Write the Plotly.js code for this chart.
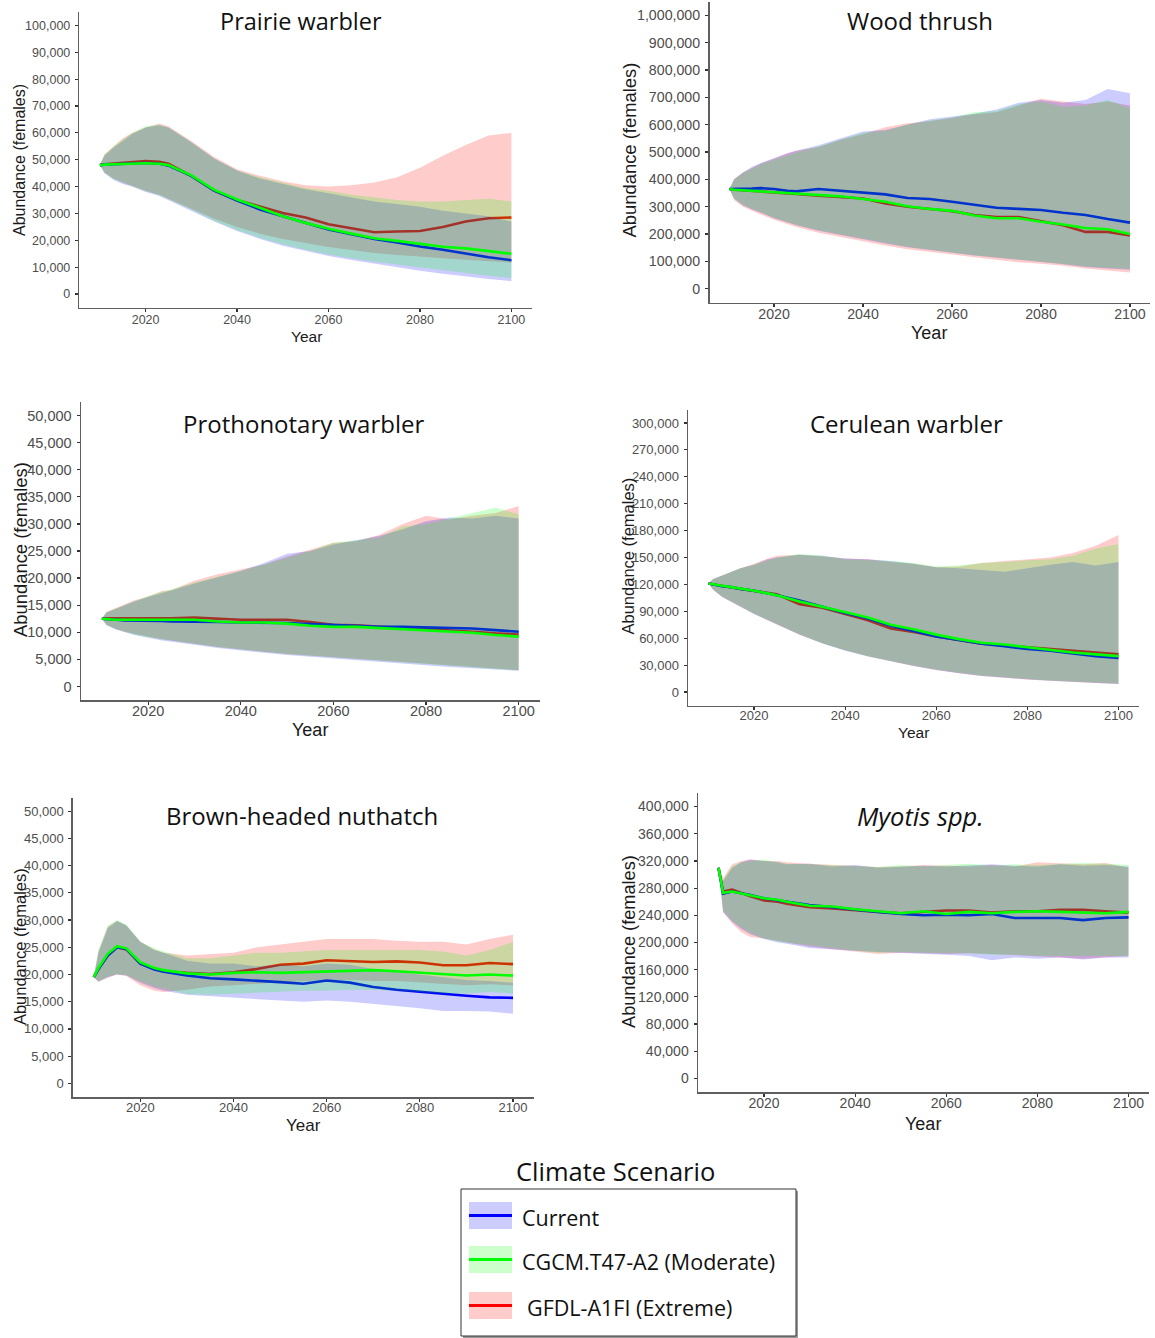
<!DOCTYPE html>
<html>
<head>
<meta charset="utf-8">
<script src="https://cdn.plot.ly/plotly-3.0.1.min.js"></script>
<style>html,body{margin:0;padding:0;background:#fff;}#chart{width:1155px;height:1338px;}</style>
</head>
<body>
<div id="chart"></div>
<script>
// ---------------- DATA ----------------
const years = [2010, 2011, 2013, 2015, 2017, 2020, 2023, 2025, 2030, 2035, 2040, 2045, 2050, 2055, 2060, 2065, 2070, 2075, 2080, 2085, 2090, 2095, 2100];
const xTicks = [2020, 2040, 2060, 2080, 2100];
const scenarios = ["Current", "CGCM.T47-A2 (Moderate)", "GFDL-A1FI (Extreme)"];
const speciesNames = ["Prairie warbler", "Wood thrush", "Prothonotary warbler", "Cerulean warbler", "Brown-headed nuthatch", "Myotis spp."];

// Prairie warbler
const pwCurMean = [48000, 48200, 48300, 48500, 48600, 48800, 48500, 47800, 44000, 38500, 34800, 31500, 29000, 26500, 24000, 22300, 20500, 19200, 17700, 16500, 15000, 13700, 12600];
const pwModMean = [48000, 48200, 48300, 48400, 48500, 48700, 48500, 48000, 44200, 38800, 35200, 32000, 29000, 26500, 24300, 22500, 20800, 19800, 18600, 17600, 17000, 16000, 15000];
const pwExtMean = [48000, 48300, 48600, 48800, 49000, 49500, 49200, 48500, 44000, 38500, 35000, 32500, 30200, 28500, 26000, 24500, 23000, 23300, 23500, 25000, 27000, 28200, 28500];
const pwCurHi = [48000, 51500, 54500, 57000, 59500, 62000, 62800, 62000, 56500, 50500, 46000, 43000, 41000, 39000, 37500, 36000, 34500, 33500, 32500, 31000, 30000, 29000, 27000];
const pwModHi = [48000, 52000, 55000, 57500, 60000, 62500, 63000, 62000, 56500, 50500, 46000, 43500, 41500, 39500, 38500, 37000, 36000, 35000, 34500, 34500, 35000, 35500, 34500];
const pwExtHi = [48000, 52000, 55000, 58000, 60000, 62000, 63500, 62500, 57000, 51000, 46500, 44000, 42000, 40500, 40000, 40500, 41500, 43500, 47000, 51500, 55500, 59000, 60000];
const pwCurLo = [48000, 45000, 42500, 41000, 40000, 38000, 36500, 35000, 31000, 27000, 23500, 20500, 18000, 16000, 14200, 12700, 11200, 10000, 8700, 7600, 6500, 5600, 4800];
const pwModLo = [48000, 45200, 42800, 41300, 40200, 38300, 36800, 35300, 31500, 27300, 23800, 21000, 18500, 16500, 14700, 13300, 12000, 11000, 9800, 8800, 7800, 6800, 6000];
const pwExtLo = [48000, 45300, 43000, 41500, 40300, 38500, 37000, 35500, 31800, 28000, 25000, 22500, 20500, 19000, 17500, 16300, 15300, 14500, 14000, 13300, 12700, 12200, 11700];

// Wood thrush
const wtCurMean = [365000, 365000, 364000, 366000, 368000, 365000, 358000, 356000, 365000, 358000, 350000, 345000, 332000, 328000, 318000, 306000, 296000, 292000, 288000, 278000, 270000, 255000, 242000];
const wtModMean = [365000, 362000, 360000, 358000, 356000, 355000, 350000, 348000, 345000, 338000, 328000, 318000, 302000, 292000, 285000, 268000, 258000, 258000, 245000, 235000, 222000, 218000, 200000];
const wtExtMean = [365000, 362000, 360000, 358000, 355000, 352000, 350000, 347000, 340000, 336000, 330000, 312000, 300000, 292000, 284000, 270000, 262000, 262000, 248000, 232000, 208000, 208000, 195000];
const wtCurHi = [365000, 400000, 425000, 445000, 460000, 478000, 495000, 505000, 525000, 550000, 575000, 580000, 600000, 620000, 630000, 640000, 655000, 680000, 690000, 680000, 690000, 730000, 715000];
const wtModHi = [365000, 398000, 422000, 440000, 455000, 472000, 488000, 498000, 520000, 545000, 570000, 578000, 600000, 615000, 625000, 645000, 650000, 675000, 685000, 665000, 670000, 690000, 660000];
const wtExtHi = [365000, 400000, 425000, 443000, 458000, 475000, 495000, 505000, 518000, 545000, 565000, 590000, 605000, 612000, 625000, 638000, 645000, 670000, 695000, 685000, 675000, 685000, 670000];
const wtCurLo = [365000, 330000, 305000, 290000, 278000, 258000, 242000, 232000, 212000, 196000, 182000, 166000, 152000, 142000, 132000, 122000, 112000, 104000, 98000, 90000, 80000, 74000, 70000];
const wtModLo = [365000, 330000, 306000, 292000, 280000, 260000, 244000, 234000, 214000, 198000, 184000, 168000, 154000, 143000, 133000, 123000, 113000, 105000, 99000, 91000, 82000, 76000, 72000];
const wtExtLo = [365000, 325000, 300000, 285000, 272000, 252000, 236000, 226000, 205000, 188000, 174000, 158000, 145000, 135000, 125000, 115000, 105000, 97000, 92000, 84000, 74000, 67000, 60000];

// Prothonotary warbler
const ptCurMean = [12500, 12400, 12300, 12200, 12200, 12200, 12100, 12000, 12000, 11900, 11800, 11800, 11700, 11500, 11300, 11200, 11000, 11000, 10900, 10900, 10700, 10400, 10100];
const ptModMean = [12500, 12400, 12300, 12300, 12300, 12300, 12300, 12300, 12300, 12000, 11800, 11800, 11600, 11200, 11000, 11000, 10800, 10600, 10400, 10200, 9900, 9500, 9200];
const ptExtMean = [12500, 12600, 12600, 12600, 12600, 12500, 12600, 12600, 12700, 12500, 12300, 12300, 12300, 11900, 11400, 11300, 11000, 10800, 10600, 10400, 10100, 9800, 9600];
const ptCurHi = [12500, 13600, 14300, 15000, 15700, 16500, 17300, 17700, 19000, 20200, 21300, 22800, 24500, 25000, 26200, 27000, 27800, 29000, 30500, 31200, 31000, 31500, 31000];
const ptModHi = [12500, 13700, 14400, 15100, 15800, 16700, 17500, 17900, 19200, 20200, 21300, 22500, 23800, 25000, 26500, 27000, 27500, 29500, 30000, 31000, 32000, 33000, 31800];
const ptExtHi = [12500, 13800, 14500, 15200, 15900, 16600, 17600, 17800, 19500, 20700, 21600, 22500, 24000, 25200, 26500, 26800, 28000, 30000, 31500, 30800, 31500, 32000, 33300];
const ptCurLo = [12500, 11300, 10500, 10000, 9500, 9000, 8500, 8200, 7700, 7100, 6600, 6200, 5800, 5400, 5100, 4800, 4500, 4200, 3900, 3600, 3400, 3100, 2900];
const ptModLo = [12500, 11400, 10600, 10100, 9600, 9100, 8700, 8400, 7900, 7300, 6800, 6400, 6000, 5600, 5300, 5000, 4700, 4400, 4100, 3800, 3500, 3200, 3000];
const ptExtLo = [12500, 11400, 10600, 10100, 9700, 9200, 8700, 8400, 7900, 7300, 6800, 6400, 6000, 5600, 5300, 5000, 4700, 4400, 4100, 3800, 3500, 3300, 3000];

// Cerulean warbler
const cwCurMean = [121000, 120000, 118000, 117000, 115000, 113000, 110000, 108000, 102000, 95000, 88000, 82000, 74000, 68000, 62000, 58000, 54000, 51000, 48000, 46000, 43000, 40000, 38000];
const cwModMean = [121000, 120000, 118500, 117000, 115500, 113000, 110000, 108000, 101000, 95000, 89000, 83000, 75000, 70000, 64000, 59000, 55000, 53000, 50000, 47000, 44000, 42000, 40000];
const cwExtMean = [121000, 120000, 118000, 116500, 115000, 113000, 111000, 109000, 98000, 94000, 87000, 80000, 71000, 67000, 62000, 58000, 54000, 52000, 50000, 48000, 46000, 44000, 42000];
const cwCurHi = [121000, 126000, 130000, 134000, 138000, 142000, 148000, 150000, 153000, 152000, 149000, 148000, 146000, 143000, 139000, 138000, 136000, 134000, 138000, 142000, 145000, 141000, 145000];
const cwModHi = [121000, 126000, 130000, 134000, 138000, 142000, 147000, 150000, 154000, 152000, 148000, 147000, 146000, 144000, 140000, 141000, 144000, 145000, 147000, 148000, 152000, 160000, 165000];
const cwExtHi = [121000, 126000, 130000, 134000, 138000, 143000, 149000, 152000, 153000, 151000, 149000, 148000, 145000, 143000, 139000, 140000, 144000, 146000, 148000, 150000, 155000, 163000, 175000];
const cwCurLo = [121000, 114000, 106000, 100000, 95000, 87000, 80000, 75000, 64000, 54000, 46000, 39500, 34000, 29000, 24500, 21000, 18000, 16000, 14000, 12500, 11000, 10000, 9000];
const cwModLo = [121000, 114500, 106500, 100500, 95500, 87500, 80500, 75500, 64500, 54500, 46500, 40000, 34500, 29500, 25000, 21500, 18500, 16500, 14500, 13000, 11500, 10500, 9500];
const cwExtLo = [121000, 114000, 106000, 100000, 95000, 87000, 80000, 75000, 64000, 54500, 46500, 40000, 34500, 29000, 24500, 21000, 18000, 16000, 14000, 12500, 11000, 10000, 9000];

// Brown-headed nuthatch
const bnCurMean = [19500, 21000, 23500, 25000, 24700, 22000, 20900, 20500, 19800, 19300, 19100, 18900, 18600, 18300, 18900, 18500, 17700, 17200, 16800, 16400, 16100, 15800, 15700];
const bnModMean = [19500, 21200, 23800, 25200, 24800, 22200, 21200, 20800, 20200, 20000, 20300, 20400, 20300, 20400, 20500, 20700, 20800, 20600, 20300, 20100, 19800, 20000, 19800];
const bnExtMean = [19500, 21000, 23500, 25000, 24600, 22000, 21000, 20600, 20300, 20100, 20400, 21000, 21800, 22000, 22600, 22500, 22300, 22400, 22200, 21700, 21700, 22100, 21900];
const bnCurHi = [19500, 24000, 28500, 29800, 29000, 26000, 24500, 24000, 22500, 22000, 22000, 21500, 21800, 21500, 22000, 21800, 21000, 20500, 20000, 19500, 19000, 18800, 18500];
const bnModHi = [19500, 24500, 29000, 30000, 29200, 26000, 24800, 24200, 23000, 23000, 23500, 24000, 24000, 24200, 24500, 24500, 24500, 24400, 24500, 24200, 23500, 24500, 26000];
const bnExtHi = [19500, 24200, 28800, 29800, 29000, 26000, 24600, 24000, 23500, 23700, 24000, 25000, 25500, 26000, 26500, 26500, 26500, 26200, 26000, 26000, 25500, 26500, 27300];
const bnCurLo = [19500, 18700, 19500, 20000, 19800, 18500, 17500, 17000, 16300, 16000, 15800, 15500, 15200, 15000, 15200, 15000, 14500, 14200, 13800, 13300, 13300, 13200, 12800];
const bnModLo = [19500, 18800, 19600, 20100, 19900, 18700, 17800, 17300, 16400, 16300, 16400, 16600, 16800, 17000, 17000, 17200, 17200, 17000, 16800, 16500, 16500, 16800, 16500];
const bnExtLo = [19500, 18600, 19400, 20000, 19700, 18000, 17000, 16800, 17200, 17800, 18000, 18300, 18500, 18800, 19000, 19000, 18800, 18800, 18500, 18300, 18000, 18200, 18000];

// Myotis spp.
const myCurMean = [310000, 272000, 275000, 273000, 270000, 265000, 262000, 260000, 255000, 252000, 248000, 245000, 242000, 240000, 241000, 240000, 242000, 236000, 236000, 236000, 233000, 236000, 237000];
const myModMean = [310000, 273000, 275000, 272000, 270000, 265000, 263000, 260000, 254000, 253000, 249000, 246000, 243000, 246000, 242000, 245000, 243000, 245000, 246000, 245000, 244000, 243000, 245000];
const myExtMean = [310000, 275000, 278000, 273000, 268000, 262000, 260000, 257000, 252000, 250000, 247000, 245000, 243000, 245000, 247000, 247000, 244000, 246000, 246000, 248000, 248000, 246000, 244000];
const myCurHi = [310000, 290000, 310000, 318000, 322000, 320000, 318000, 315000, 316000, 312000, 314000, 310000, 312000, 313000, 312000, 314000, 315000, 313000, 312000, 315000, 313000, 314000, 312000];
const myModHi = [310000, 292000, 312000, 318000, 320000, 322000, 318000, 316000, 315000, 314000, 313000, 311000, 314000, 312000, 314000, 316000, 313000, 315000, 314000, 316000, 317000, 316000, 314000];
const myExtHi = [310000, 295000, 315000, 320000, 322000, 320000, 320000, 318000, 316000, 314000, 312000, 311000, 312000, 314000, 313000, 312000, 314000, 312000, 318000, 316000, 315000, 317000, 310000];
const myCurLo = [310000, 245000, 230000, 220000, 212000, 205000, 200000, 198000, 192000, 190000, 188000, 186000, 184000, 183000, 182000, 180000, 174000, 178000, 176000, 178000, 175000, 178000, 178000];
const myModLo = [310000, 248000, 232000, 222000, 214000, 206000, 202000, 200000, 195000, 192000, 188000, 185000, 186000, 185000, 184000, 184000, 182000, 182000, 180000, 180000, 180000, 180000, 180000];
const myExtLo = [310000, 245000, 228000, 215000, 208000, 206000, 202000, 200000, 194000, 190000, 186000, 183000, 185000, 184000, 183000, 184000, 183000, 181000, 180000, 178000, 176000, 178000, 180000];

// ---------------- LAYOUT HELPERS ----------------
const W = 1155, H = 1338;
const px = v => v / W;
const py = v => 1 - v / H;

const SCEN_STYLE = {
  ext: {fill: 'rgba(255,0,0,0.2)', line: '#ff0000'},
  cur: {fill: 'rgba(0,0,255,0.2)', line: '#0000ff'},
  mod: {fill: 'rgba(0,255,0,0.2)', line: '#00ff00'}
};

// panel geometry (pixels) and styling
const panels = [
  {name: speciesNames[0], data: {cur: [pwCurMean, pwCurLo, pwCurHi], mod: [pwModMean, pwModLo, pwModHi], ext: [pwExtMean, pwExtLo, pwExtHi]},
   x: [79.3, 532], y: [12, 307.5], vmax: 100000, dtick: 10000, tickSize: 12.5, xStand: -3,
   title: [301, 20.5, 23.5], year: [306, 336, 15.5], ytitle: [19, 160, 16]},
  {name: speciesNames[1], data: {cur: [wtCurMean, wtCurLo, wtCurHi], mod: [wtModMean, wtModLo, wtModHi], ext: [wtExtMean, wtExtLo, wtExtHi]},
   x: [709.5, 1150], y: [1.5, 302.5], vmax: 1000000, dtick: 100000, tickSize: 14.2, xStand: -5,
   title: [920, 20, 24], year: [929, 333.5, 18], ytitle: [629, 150.5, 18.4]},
  {name: speciesNames[2], data: {cur: [ptCurMean, ptCurLo, ptCurHi], mod: [ptModMean, ptModLo, ptModHi], ext: [ptExtMean, ptExtLo, ptExtHi]},
   x: [81, 539.5], y: [402, 700], vmax: 50000, dtick: 5000, tickSize: 14.5, xStand: -6,
   title: [303.5, 423.5, 24], year: [310, 730, 18], ytitle: [20.5, 549.5, 18.4]},
  {name: speciesNames[3], data: {cur: [cwCurMean, cwCurLo, cwCurHi], mod: [cwModMean, cwModLo, cwModHi], ext: [cwExtMean, cwExtLo, cwExtHi]},
   x: [688, 1139], y: [409.5, 705.5], vmax: 300000, dtick: 30000, tickSize: 13, xStand: -6,
   title: [906, 423.5, 24], year: [913, 732.5, 15.5], ytitle: [627, 556.5, 16.5]},
  {name: speciesNames[4], data: {cur: [bnCurMean, bnCurLo, bnCurHi], mod: [bnModMean, bnModLo, bnModHi], ext: [bnExtMean, bnExtLo, bnExtHi]},
   x: [72.8, 534], y: [797.5, 1097], vmax: 50000, dtick: 5000, tickSize: 13, xStand: -5,
   title: [302, 815.5, 24], year: [303, 1125, 17], ytitle: [19.6, 946.5, 16.5]},
  {name: speciesNames[5], italic: true, data: {cur: [myCurMean, myCurLo, myCurHi], mod: [myModMean, myModLo, myModHi], ext: [myExtMean, myExtLo, myExtHi]},
   x: [698, 1149], y: [793, 1092], vmax: 400000, dtick: 40000, tickSize: 14, xStand: -5,
   title: [920.5, 815.5, 25.5], year: [923, 1123.5, 18], ytitle: [628.5, 941.5, 18.2]}
];

const traces = [];
const layout = {
  width: W, height: H,
  margin: {l: 0, r: 0, t: 0, b: 0, pad: 0},
  paper_bgcolor: '#ffffff', plot_bgcolor: '#ffffff',
  showlegend: false,
  annotations: [], shapes: []
};

const TICK_FONT = 'Liberation Sans, Arial, sans-serif';
const TITLE_FONT = 'Open Sans, sans-serif';

panels.forEach((p, i) => {
  const sfx = i === 0 ? '' : String(i + 1);
  const xa = 'x' + sfx, ya = 'y' + sfx;
  ['ext', 'cur', 'mod'].forEach(k => {
    const [mean, lo, hi] = p.data[k];
    traces.push({
      type: 'scatter', mode: 'lines', xaxis: xa, yaxis: ya,
      x: years.concat(years.slice().reverse()),
      y: hi.concat(lo.slice().reverse()),
      fill: 'toself', fillcolor: SCEN_STYLE[k].fill,
      line: {width: 0, color: 'rgba(0,0,0,0)'},
      hoverinfo: 'skip', showlegend: false
    });
    traces.push({
      type: 'scatter', mode: 'lines', xaxis: xa, yaxis: ya,
      x: years, y: mean,
      line: {width: 2.6, color: SCEN_STYLE[k].line},
      name: k, showlegend: false
    });
  });
  const axCommon = {
    showgrid: false, zeroline: false, showline: true,
    linecolor: '#5f5f5f', linewidth: 1.5,
    ticks: 'outside', ticklen: 3, tickwidth: 1.2, tickcolor: '#333333',
    fixedrange: true
  };
  layout['xaxis' + sfx] = Object.assign({}, axCommon, {
    domain: [px(p.x[0]), px(p.x[1])], anchor: ya,
    range: [2005.5, 2104.5], tickmode: 'array', tickvals: xTicks,
    ticktext: xTicks.map(String), ticklabelstandoff: p.xStand,
    tickfont: {family: TICK_FONT, size: p.tickSize, color: '#4d4d4d'}
  });
  layout['yaxis' + sfx] = Object.assign({}, axCommon, {
    domain: [py(p.y[1]), py(p.y[0])], anchor: xa,
    range: [-0.05 * p.vmax, 1.05 * p.vmax], tick0: 0, dtick: p.dtick,
    tickformat: ',d', ticklabelstandoff: 2,
    tickfont: {family: TICK_FONT, size: p.tickSize, color: '#4d4d4d'}
  });
  layout.annotations.push({
    xref: 'paper', yref: 'paper', x: px(p.title[0]), y: py(p.title[1]),
    xanchor: 'center', yanchor: 'middle', showarrow: false,
    text: p.italic ? '<i>' + p.name + '</i>' : p.name,
    font: {family: TITLE_FONT, size: p.title[2], color: '#111111'}
  });
  layout.annotations.push({
    xref: 'paper', yref: 'paper', x: px(p.year[0]), y: py(p.year[1]),
    xanchor: 'center', yanchor: 'middle', showarrow: false,
    text: 'Year', font: {family: TICK_FONT, size: p.year[2], color: '#1a1a1a'}
  });
  layout.annotations.push({
    xref: 'paper', yref: 'paper', x: px(p.ytitle[0]), y: py(p.ytitle[1]),
    xanchor: 'center', yanchor: 'middle', showarrow: false, textangle: -90,
    text: 'Abundance (females)', font: {family: TICK_FONT, size: p.ytitle[2], color: '#1a1a1a'}
  });
});

// ---------------- LEGEND (drawn) ----------------
layout.annotations.push({
  xref: 'paper', yref: 'paper', x: px(615), y: py(1171), xanchor: 'center', yanchor: 'middle',
  showarrow: false, text: 'Climate Scenario', font: {family: TITLE_FONT, size: 25.5, color: '#111111'}
});
// shadow + box
layout.shapes.push({type: 'rect', xref: 'paper', yref: 'paper', x0: px(463), x1: px(798), y0: py(1191), y1: py(1338),
  line: {width: 0}, fillcolor: '#9a9a9a', layer: 'below'});
layout.shapes.push({type: 'rect', xref: 'paper', yref: 'paper', x0: px(461), x1: px(796), y0: py(1189), y1: py(1336),
  line: {width: 1, color: '#333333'}, fillcolor: '#ffffff', layer: 'below'});
const legendKeys = ['cur', 'mod', 'ext'];
const legendRows = [1215.5, 1259.5, 1305.5];
const legendTextX = [520, 520, 525];
legendKeys.forEach((k, j) => {
  const cy = legendRows[j];
  layout.shapes.push({type: 'rect', xref: 'paper', yref: 'paper', x0: px(469), x1: px(512), y0: py(cy + 13.5), y1: py(cy - 13.5),
    line: {width: 0}, fillcolor: SCEN_STYLE[k].fill});
  layout.shapes.push({type: 'line', xref: 'paper', yref: 'paper', x0: px(469), x1: px(512), y0: py(cy), y1: py(cy),
    line: {width: 3, color: SCEN_STYLE[k].line}});
  layout.annotations.push({
    xref: 'paper', yref: 'paper', x: px(legendTextX[j]), y: py(cy + 1.5), xanchor: 'left', yanchor: 'middle',
    showarrow: false, text: scenarios[j], font: {family: TITLE_FONT, size: 21.5, color: '#111111'}
  });
});

Plotly.newPlot('chart', traces, layout, {staticPlot: true, displayModeBar: false});
</script>
</body>
</html>
